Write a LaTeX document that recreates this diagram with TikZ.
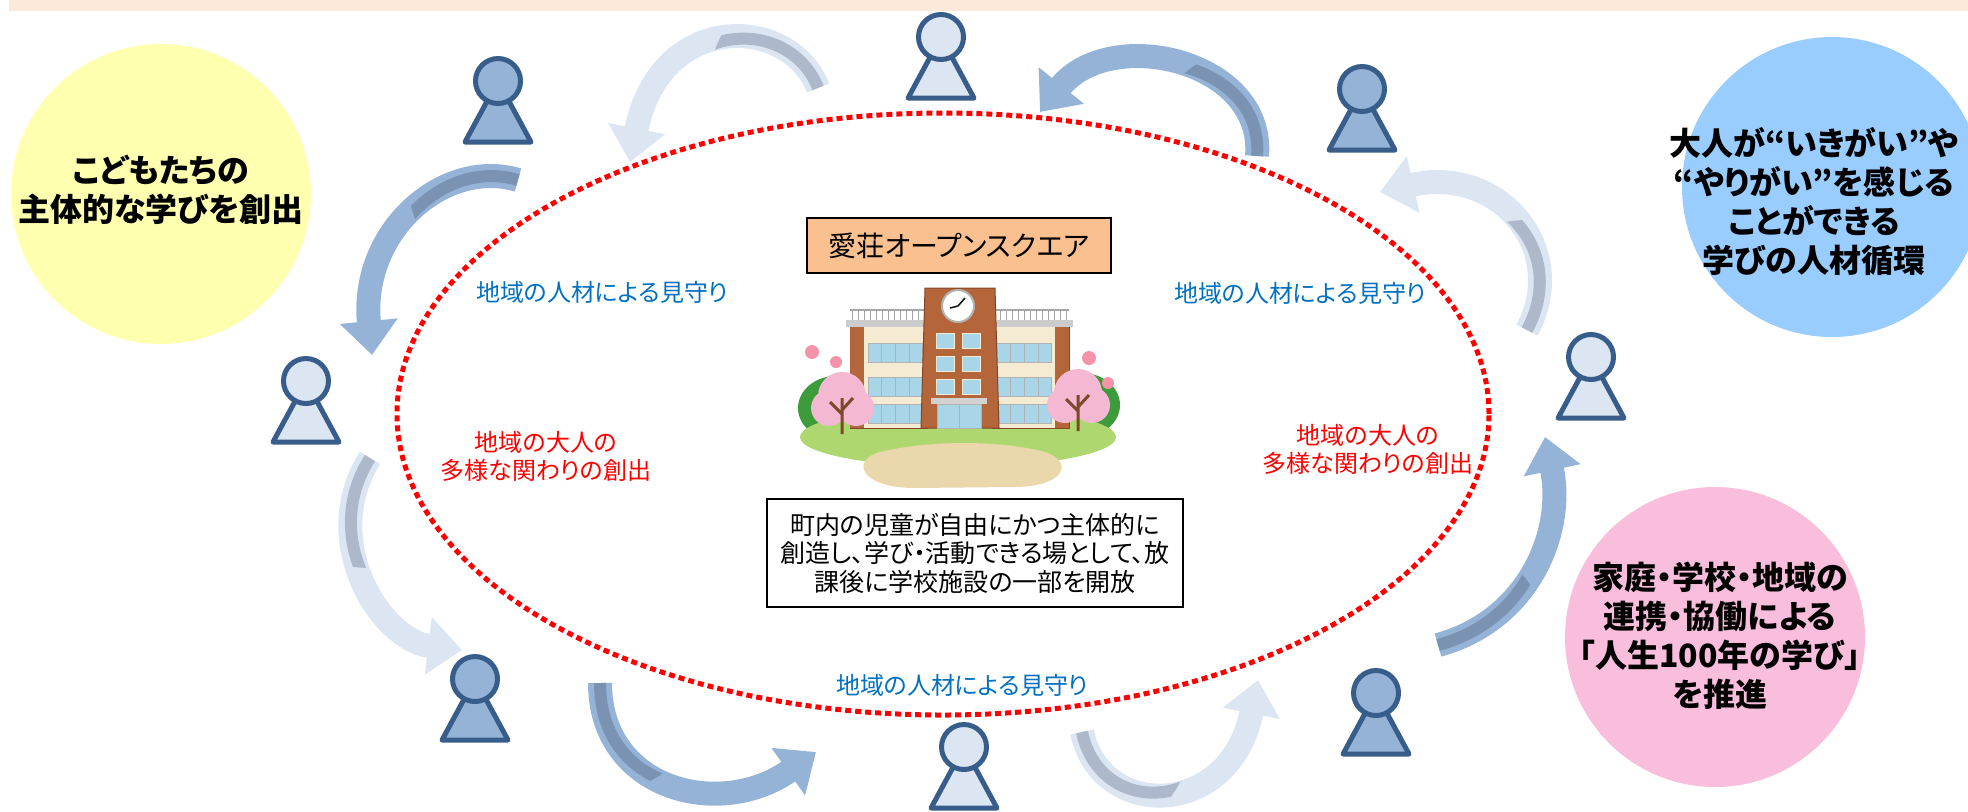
\documentclass[tikz,border=0pt]{standalone}
\usepackage{fontspec}
\newfontfamily\jpfont{Noto Sans CJK JP}[RawFeature=+palt]
\usepackage{tikz}
\usetikzlibrary{arrows.meta}

\definecolor{bandpeach}{HTML}{FDE9D9}
\definecolor{discyellow}{HTML}{FFFFB0}
\definecolor{discblue}{HTML}{99CCFF}
\definecolor{discpink}{HTML}{F8BEDC}
\definecolor{figline}{HTML}{385D8A}
\definecolor{figmid}{HTML}{95B3D7}
\definecolor{figlight}{HTML}{DCE6F2}
\definecolor{shademid}{HTML}{7B93B3}
\definecolor{shadelight}{HTML}{ADB9CA}
\definecolor{watchblue}{HTML}{0070C0}
\definecolor{boxorange}{HTML}{FAC090}
\definecolor{brick}{HTML}{B5653A}
\definecolor{wall}{HTML}{F5EBD3}
\definecolor{pane}{HTML}{A9D5E8}
\definecolor{lawn}{HTML}{AED76F}
\definecolor{shrub}{HTML}{3E9B3C}
\definecolor{yard}{HTML}{EAD7AC}
\definecolor{blossom}{HTML}{F4B8D2}
\definecolor{trunk}{HTML}{7A4A2A}

\tikzset{
  person/.pic={
    \filldraw[fill=#1, draw=figline, line width=2.5pt, line join=round]
      (0,0) -- (-33,61) -- (33,61) -- cycle;
    \filldraw[fill=#1, draw=figline, line width=2.5pt] (0,0) circle[radius=11.25pt];
  }
}

% curved hand-over arrow: colour, shade, tail, two controls, head
\newcommand{\handover}[6]{%
  \draw[line width=12pt, draw=#1, -{Triangle[length=17pt, width=28pt]}]
    (#3) .. controls #4 and #5 .. (#6);
  \begin{scope}
    \clip (#3) circle[radius=55pt];
    \draw[line width=6pt, draw=#2] (#3) .. controls #4 and #5 .. (#6);
  \end{scope}}

\begin{document}
\begin{tikzpicture}[x=0.5pt, y=-0.5pt,
    goal/.style={font=\jpfont\bfseries\fontsize{16pt}{19.5pt}\selectfont, align=center, inner sep=0pt},
    watch/.style={font=\jpfont\fontsize{12pt}{14pt}\selectfont, text=watchblue, inner sep=0pt},
    bond/.style={font=\jpfont\fontsize{12pt}{14pt}\selectfont, text=red, align=center, inner sep=0pt},
    titlebox/.style={draw=black, line width=1.2pt, fill=boxorange, minimum width=152pt,
      minimum height=27.5pt, inner sep=0pt, font=\jpfont\fontsize{14pt}{16pt}\selectfont},
    infobox/.style={draw=black, line width=1pt, fill=white, minimum width=208pt,
      minimum height=54pt, inner sep=0pt, align=center, font=\jpfont\fontsize{12.5pt}{14.25pt}\selectfont}]
    \useasboundingbox (0,0) rectangle (1968,811);
    \clip (0,0) rectangle (1968,811);

    % header strip
    \fill[bandpeach] (9,0) rectangle (1968,11);

    % aim discs
    \fill[discyellow] (161,194) circle[radius=75pt];
    \fill[discblue] (1832,187) circle[radius=75pt];
    \fill[discpink] (1715,637) circle[radius=75pt];
    \node[goal] (kids) at (161,190) {こどもたちの\\主体的な学びを創出};
    \node[goal] (adults) at (1814,201) {大人が“いきがい”や\\“やりがい”を感じる\\ことができる\\学びの人材循環};
    \node[goal] (lifelong) at (1720,636) {家庭・学校・地域の\\連携・協働による\\「人生100年の学び」\\を推進};

    % people around the square
    \coordinate (topleft) at (498,81);
    \coordinate (top) at (941,37);
    \coordinate (topright) at (1362,89);
    \coordinate (right) at (1591,357);
    \coordinate (botright) at (1376,693);
    \coordinate (bottom) at (964,747);
    \coordinate (botleft) at (475,679);
    \coordinate (left) at (306,381);

    % arrow ends
    \coordinate (t1) at (518,180);  \coordinate (h1) at (372,355);
    \coordinate (t2) at (370,458);  \coordinate (h2) at (462,650);
    \coordinate (t3) at (600,683);  \coordinate (h3) at (816,752);
    \coordinate (t4) at (1082,732); \coordinate (h4) at (1258,680);
    \coordinate (t5) at (1438,645); \coordinate (h5) at (1545,437);
    \coordinate (t6) at (1527,330); \coordinate (h6) at (1380,192);
    \coordinate (t7) at (1257,156); \coordinate (h7) at (1040,112);
    \coordinate (t8) at (818,88);   \coordinate (h8) at (630,162);

    \handover{figmid}{shademid}{t1}{(445,158)}{(360,230)}{h1}
    \handover{figlight}{shadelight}{t2}{(318,540)}{(380,640)}{h2}
    \handover{figmid}{shademid}{t3}{(600,790)}{(720,820)}{h3}
    \handover{figlight}{shadelight}{t4}{(1100,820)}{(1230,820)}{h4}
    \handover{figmid}{shademid}{t5}{(1530,620)}{(1565,530)}{h5}
    \handover{figlight}{shadelight}{t6}{(1570,250)}{(1500,165)}{h6}
    \handover{figmid}{shademid}{t7}{(1265,60)}{(1110,25)}{h7}
    \handover{figlight}{shadelight}{t8}{(790,15)}{(660,10)}{h8}

    % dotted ring
    \draw[red, line width=2.5pt, dash pattern=on 3pt off 2pt]
        (943,414) ellipse [x radius=273pt, y radius=150.5pt];

    \pic at (topleft) {person=figmid};
    \pic at (top) {person=figlight};
    \pic at (topright) {person=figmid};
    \pic at (right) {person=figlight};
    \pic at (botright) {person=figmid};
    \pic at (bottom) {person=figlight};
    \pic at (botleft) {person=figmid};
    \pic at (left) {person=figlight};

    % ring labels
    \node[watch] (watchL) at (602,292) {地域の人材による見守り};
    \node[watch] (watchR) at (1300,293) {地域の人材による見守り};
    \node[watch] (watchB) at (962,685) {地域の人材による見守り};
    \node[bond] (bondL) at (546,456) {地域の大人の\\多様な関わりの創出};
    \node[bond] (bondR) at (1368,449) {地域の大人の\\多様な関わりの創出};

    % school: ground
    \fill[shrub] (836,408) ellipse [x radius=19pt, y radius=16pt];
    \fill[shrub] (1082,405) ellipse [x radius=19pt, y radius=16pt];
    \fill[lawn] (958,437) ellipse [x radius=79pt, y radius=15pt];
    \fill[yard] (880,452) .. controls (930,440) and (1000,440) .. (1045,452)
        .. controls (1075,462) and (1065,488) .. (1010,487) -- (915,488)
        .. controls (860,488) and (850,460) .. cycle;

    % school: wings
    \foreach \wx in {850,992} {
      \draw[gray!70, line width=0.6pt] (\wx,310) -- (\wx+77,310);
      \foreach \bx in {2,8,...,76}
        \draw[gray!70, line width=0.4pt] (\wx+\bx,310) -- (\wx+\bx,320);
      \filldraw[fill=wall, draw=brick!70!black, line width=0.5pt] (\wx,324) rectangle (\wx+77,428);
      \fill[gray!40] (\wx-4,320) rectangle (\wx+81,327);
    }
    \fill[brick] (850,327) rectangle (864,428);
    \fill[brick] (1055,327) rectangle (1069,428);
    \foreach \wy in {343,377,404} {
      \filldraw[fill=pane, draw=gray!60, line width=0.5pt] (868,\wy) rectangle (922,\wy+19);
      \filldraw[fill=pane, draw=gray!60, line width=0.5pt] (996,\wy) rectangle (1051,\wy+19);
      \foreach \px in {881,895,909}
        \draw[gray!60, line width=0.4pt] (\px,\wy) -- (\px,\wy+19);
      \foreach \px in {1010,1024,1038}
        \draw[gray!60, line width=0.4pt] (\px,\wy) -- (\px,\wy+19);
    }

    % school: clock tower
    \filldraw[fill=brick, draw=brick!70!black, line width=0.5pt]
        (925,288) -- (995,288) -- (999,428) -- (921,428) -- cycle;
    \filldraw[fill=white, draw=gray!60, line width=1pt] (958,306) circle[radius=8pt];
    \draw[gray!20!black, line width=0.8pt] (958,306) -- (965,298) (958,306) -- (950,308);
    \foreach \wy in {333,356,379} {
      \filldraw[fill=pane, draw=wall, line width=0.5pt] (936,\wy) rectangle (954,\wy+15);
      \filldraw[fill=pane, draw=wall, line width=0.5pt] (962,\wy) rectangle (980,\wy+15);
    }
    \fill[gray!35] (931,398) rectangle (987,404);
    \filldraw[fill=pane, draw=gray!60, line width=0.5pt] (937,404) rectangle (981,428);
    \draw[gray!60, line width=0.5pt] (959,404) -- (959,428);

    % school: cherry trees
    \fill[blossom] (842,396) circle[radius=12pt] (829,408) circle[radius=9pt] (856,408) circle[radius=9pt];
    \fill[blossom] (1078,393) circle[radius=12pt] (1065,405) circle[radius=9pt] (1092,405) circle[radius=9pt];
    \draw[trunk, line width=1.5pt] (842,434) -- (842,398) (842,414) -- (830,402) (842,410) -- (853,398);
    \draw[trunk, line width=1.5pt] (1078,431) -- (1078,395) (1078,411) -- (1066,399) (1078,407) -- (1089,395);
    \fill[blossom!80!red] (812,352) circle[radius=3.5pt] (836,362) circle[radius=3pt]
        (1089,358) circle[radius=3.5pt] (1108,383) circle[radius=3pt];

    % square title and purpose
    \node[titlebox] (square) at (959,245.5) {愛荘オープンスクエア};
    \node[infobox] (about) at (975,553) {町内の児童が自由にかつ主体的に\\創造し、学び・活動できる場として、放\\課後に学校施設の一部を開放};
\end{tikzpicture}
\end{document}
